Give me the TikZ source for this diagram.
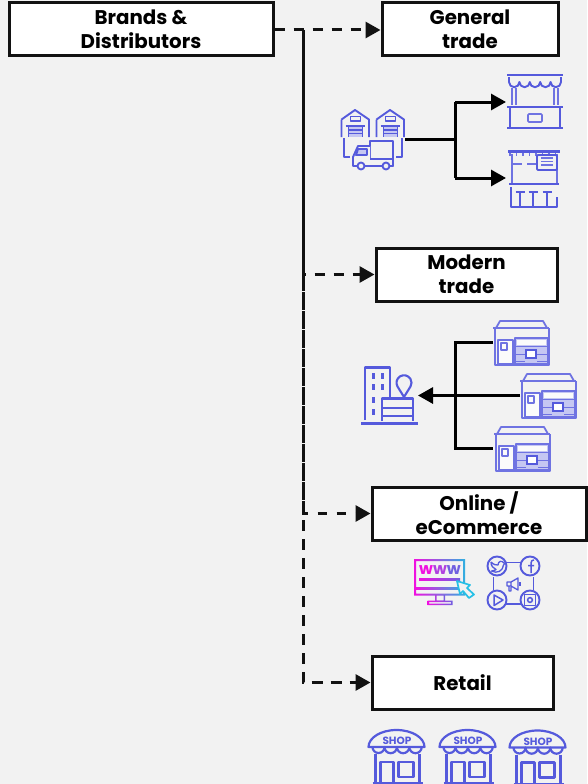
\documentclass[tikz,border=0pt]{standalone}
\usepackage{fontspec}
\setmainfont{Poppins}
\usetikzlibrary{arrows.meta}
\definecolor{bgc}{HTML}{F2F2F2}
\definecolor{ic}{HTML}{555ADC}
\definecolor{icl}{HTML}{6F73E2}
\definecolor{hatch}{HTML}{C5C7F2}
\definecolor{wa}{HTML}{F010E0}
\definecolor{wb}{HTML}{B040E0}
\definecolor{wc}{HTML}{7060E0}
\definecolor{wd}{HTML}{30B0E0}
\tikzset{
  box/.style={draw=black!93,line width=3pt,fill=white,align=center,inner sep=0pt,
    font=\fontsize{19.8}{24}\selectfont\bfseries},
  dashlink/.style={draw=black!93,line width=3pt,-{Triangle[length=15pt,width=16pt]}},
  solidlink/.style={draw=black,line width=3pt},
  tiplink/.style={solidlink,-{Triangle[length=15pt,width=16pt]}},
  icon/.style={draw=ic,line width=1.9pt,line join=round},
  paleicon/.style={draw=icl,line width=1.8pt,line join=round},
  warehouse/.pic={
    \draw[icon] (-13.5,9.5) -- (0,0) -- (14,9.5) -- (14,27) (-13.5,27) -- (-13.5,9.5);
    \draw[icon] (-4.5,6.5) rectangle (5.5,11);
    \draw[icon,line width=2.2pt] (-9.5,16) -- (10,16);
    \fill[hatch] (-6.5,17) rectangle (7.5,27);
    \draw[ic,line width=1.1pt] (-6.5,20) -- (7.5,20) (-6.5,23.5) -- (7.5,23.5) (-6.5,17) -- (-6.5,27) (7.5,17) -- (7.5,27);
  },
  storefront/.pic={
    \draw[paleicon] (3,8) -- (7,1) -- (50,1) -- (54,8);
    \draw[paleicon,line width=2.2pt] (0,8) -- (56,8);
    \draw[paleicon] (2,8) -- (2,45) -- (56,45) -- (56,8);
    \fill[white!70!bgc] (5,20) rectangle (20,44);
    \draw[paleicon] (5,20) rectangle (20,44);
    \draw[paleicon] (8,23) rectangle (14,30);
    \fill[hatch] (22,18) rectangle (55,44);
    \draw[paleicon] (22,18) rectangle (55,44);
    \fill[white] (33,30) rectangle (43,38);
    \draw[ic,line width=1.2pt] (33,30) rectangle (43,38);
    \draw[icl,line width=1pt] (23,26) -- (54,26) (23,41) -- (32,41) (44,41) -- (54,41) (23,34) -- (32,34) (44,34) -- (54,34);
    \fill[white!70!bgc] (24,20) rectangle (53,25);
  },
  shopicon/.pic={
    \draw[icon,line width=2.2pt] (0,17) arc[start angle=180,end angle=360,x radius=28,y radius=17] -- cycle;
    \draw[icon,line width=2.2pt] (4,17) arc[start angle=180,end angle=0,radius=6]
      arc[start angle=180,end angle=0,radius=6.2] arc[start angle=180,end angle=0,radius=6.2]
      arc[start angle=180,end angle=0,radius=6.2];
    \draw[icon,line width=2.2pt] (7,24) -- (7,53.5) (51,24) -- (51,53.5);
    \draw[icon,line width=2.4pt] (4,53.5) -- (54,53.5);
    \draw[icon,line width=2.2pt] (12,53) -- (12,32) -- (25,32) -- (25,53);
    \draw[icon,line width=2.2pt] (30,32) rectangle (45,47);
    \node[ic,inner sep=0pt,font=\fontsize{10.5}{10.5}\selectfont\bfseries] (-lab) at (28.5,11) {SHOP};
  },
  social/.pic={\draw[icon] (0,0) circle[radius=9.5];},
}
\begin{document}
\begin{tikzpicture}[x=1pt,y=-1pt]
\fill[bgc] (0,0) rectangle (587,784);
\useasboundingbox (0,0) rectangle (587,784);

% boxes
\node[box,minimum width=264pt,minimum height=53pt] (brands) at (141,29.5) {Brands \&\\Distributors};
\node[box,minimum width=176pt,minimum height=53pt] (general) at (470,29.5) {General\\trade};
\node[box,minimum width=181pt,minimum height=53pt] (modern) at (466.5,274.5) {Modern\\trade};
\node[box,minimum width=214pt,minimum height=53pt] (online) at (479,513.5) {Online /\\eCommerce};
\node[box,minimum width=181pt,minimum height=53pt] (retail) at (462.5,682.5) {Retail};

% dashed connectors
\coordinate (hub) at (303,30);
\draw[dashlink,dash pattern=on 10pt off 9pt] (brands.east |- hub) -- (general.west |- hub);
\draw[dashlink,dash pattern=on 10pt off 9pt,dash phase=10pt] (hub) |- (modern.west);
\draw[dashlink,dash pattern=on 9.5pt off 9.5pt,dash phase=15pt] (hub) |- (online.west);
\draw[dashlink,dash pattern=on 11pt off 8pt,dash phase=4pt] (hub) |- (retail.west);

% warehouse and truck icon
\pic (w1) at (355,110) {warehouse};
\pic (w2) at (390,110) {warehouse};
\draw[icon] (344,138) -- (344,157) -- (350,157) (402,138) -- (402,157) -- (396,157);
\draw[icon,fill=bgc] (370,141) rectangle (393,166);
\draw[icon,fill=bgc] (370,146) -- (358,146) -- (353,157) -- (353,166) -- (393,166) -- (393,159) -- (370,159);
\draw[icon,fill=hatch] (358,149) -- (367,149) -- (367,155) -- (356,155) -- cycle;
\draw[icon,fill=bgc] (361,166) circle[radius=3.5];
\draw[icon,fill=bgc] (386,166) circle[radius=3.5];

% stall icon
\draw[icon,line width=2.4pt] (507,75) -- (563,75);
\draw[icon] (509,77) -- (509,82) arc[start angle=180,end angle=0,radius=5.2]
  arc[start angle=180,end angle=0,radius=5.2] arc[start angle=180,end angle=0,radius=5.2]
  arc[start angle=180,end angle=0,radius=5.2] arc[start angle=180,end angle=0,radius=5.2] -- (561,77);
\draw[icl,line width=1.4pt] (512,88) -- (512,105) (516,88) -- (516,105) (554,88) -- (554,105) (558,88) -- (558,105);
\draw[icon,line width=2.4pt] (507,107) -- (563,107);
\draw[icon] (510,108) -- (510,127) (560,108) -- (560,127);
\draw[icon,line width=2.4pt] (507,128) -- (563,128);
\draw[icl,line width=1.7pt,rounded corners=1pt] (528,114) rectangle (542,122);

% restaurant icon
\coordinate (stallin) at (506,102);
\draw[icon,line width=2.4pt] (508,151.5) -- (560,151.5);
\foreach \i in {0,...,7}{\draw[icl,line width=1.8pt] (510+\i*6.5,153) -- (510+\i*6.5,156);}
\draw[icl,line width=1.6pt] (512,154) -- (512,183) (557,154) -- (557,183);
\draw[icl,line width=1.6pt] (512,164) -- (522,164) (527,164) -- (537,164);
\draw[icon,fill=bgc,rounded corners=1pt] (537,155) rectangle (557,170);
\draw[icl,line width=1.2pt] (541,158) -- (553,158) (541,161.5) -- (553,161.5) (541,165) -- (553,165);
\draw[icon,line width=2.4pt] (509,184) -- (559,184);
\draw[icon] (511,187) -- (511,207) -- (557,207) -- (557,197);
\foreach \x in {520,533,547}{\draw[icon,line width=2.2pt] (\x-4.5,192) -- (\x+4.5,192); \draw[icon] (\x,193) -- (\x,207);}

% supply connectors
\coordinate (whout) at (405,139);
\coordinate (split) at (455,139);
\coordinate (restin) at (506,178);
\draw[tiplink] (split |- stallin) -- (stallin);
\draw[tiplink] (split |- restin) -- (restin);
\draw[solidlink,line cap=butt] (whout) -- (split);
\draw[solidlink] (split |- stallin) -- (split |- restin);

% building icon
\draw[icon,line width=2.3pt] (365,420) -- (365,367.5) -- (390,367.5) -- (390,400);
\draw[icon,line width=3pt] (361,423) -- (418,423);
\foreach \y in {376,387,400,412}{\fill[ic] (372,\y-3) rectangle (375,\y+3);}
\foreach \y in {376,387}{\fill[ic] (381,\y-3) rectangle (384,\y+3);}
\draw[icon,line width=2.3pt] (382,421) -- (382,398.5) -- (413,398.5) -- (413,421);
\draw[icon] (382,408) -- (413,408) (382,416) -- (413,416);
\draw[icon,line width=2.1pt] (404,397) -- (397.5,386.5) arc[start angle=150,end angle=390,radius=7.5] -- cycle;

% storefront icons
\pic (s1) at (493,320) {storefront};
\pic (s2) at (520,373) {storefront};
\pic (s3) at (494,426) {storefront};

% store connectors
\coordinate (mallin) at (418,395.5);
\coordinate (s2out) at (520,395.5);
\coordinate (s1out) at (493,342);
\coordinate (s3out) at (493,448);
\coordinate (join) at (455,395.5);
\draw[solidlink] (s1out) -- (join |- s1out) -- (join |- s3out) -- (s3out);
\draw[tiplink] (s2out) -- (mallin);

% www icon
\shade[left color=wa,right color=wd,even odd rule] (414.2,559.2) rectangle (465,595.5) (416,561) rectangle (463.2,593.7);
\shade[left color=wa,right color=wd] (415,587.5) rectangle (464,589);
\shade[left color=wb,right color=wc,even odd rule] (435,595) rectangle (445,601.5) (436.5,595) rectangle (443.5,600.5);
\shade[left color=wa,right color=wc,even odd rule] (427.5,600.5) rectangle (452.5,605) (429,602) rectangle (451,603.5);
\node[inner sep=0pt,font=\fontsize{16}{16}\selectfont\bfseries] (www) at (440,570) {\textcolor{wa}{w}\textcolor{wb}{w}\textcolor{wc}{w}};
\shade[left color=wa,right color=wc] (419,578.5) rectangle (460,580);
\draw[draw=wd!80!cyan,line width=1.7pt,fill=bgc,line join=round] (457,581) -- (470,585) -- (467,588) -- (474,594.5) -- (469,598) -- (463,591) -- (460,594) -- cycle;

% social icon
\draw[icon] (506,562.5) -- (520.5,562.5) (493.5,577) -- (493.5,590) (533.5,577) -- (533.5,590) (506,604) -- (520.5,604);
\pic (t) at (497,566) {social};
\pic (f) at (530,566) {social};
\pic (y) at (497,600) {social};
\pic (g) at (530,600) {social};
\draw[icon,line width=1.3pt] (491,562) .. controls (494,565) and (496,565) .. (498,565) .. controls (498,561) and (502,560) .. (504,563) -- (505,563) -- (503.5,565) .. controls (503,571) and (497,574) .. (491.5,571) .. controls (494,571) and (495,570) .. (496,569.5) .. controls (493,568) and (491,566) .. (491,562);
\draw[icon,line width=1.5pt] (531,573) -- (531,563) .. controls (531,560.5) and (532.5,560) .. (534,560) (528,565.5) -- (534,565.5);
\draw[icon,line width=1.5pt] (494,595) -- (503,600) -- (494,605.5) -- cycle;
\draw[icon,line width=1.5pt] (524.5,594.5) rectangle (535.5,605.5);
\draw[icon,line width=1.5pt] (530,600) circle[radius=2.4];
\draw[icon,line width=1.3pt] (507,582) -- (507,586) -- (511,586) -- (511,582) -- cycle (511,582) -- (518,578) -- (518,590) -- (511,586) (509,586) -- (509,591) -- (511,591) -- (511,587);
\draw[icon,line width=1.3pt] (520,582) -- (520,586);

% shop icons
\pic (p1) at (368.5,730) {shopicon};
\pic (p2) at (439.5,730) {shopicon};
\pic (p3) at (509.5,730.5) {shopicon};
\end{tikzpicture}
\end{document}
